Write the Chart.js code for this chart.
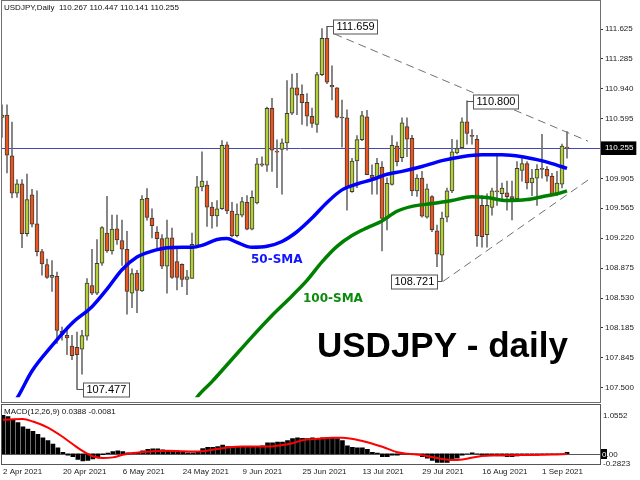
<!DOCTYPE html>
<html><head><meta charset="utf-8">
<script src="https://cdn.jsdelivr.net/npm/chart.js@4"></script>
<style>
html,body{margin:0;padding:0;background:#fff;width:640px;height:480px;overflow:hidden}
#main{position:absolute;left:0;top:0}
#macd{position:absolute;left:0;top:404px}
</style></head><body>
<canvas id="main" width="640" height="404"></canvas>
<canvas id="macd" width="640" height="76"></canvas>
<script>
// ---------- DATA ----------
const symbolTitle = 'USDJPY,Daily';
const opens = [110.608,110.635,110.167,109.738,109.846,109.271,109.719,109.383,109.065,108.916,
108.766,108.781,108.146,108.101,107.978,107.963,107.94,108.09,108.673,108.587,
108.93,109.278,109.072,109.327,109.192,109.091,108.587,108.818,108.613,109.678,
109.45,109.29,109.214,108.897,109.222,108.949,108.919,108.744,108.755,109.136,
109.809,109.831,109.577,109.476,109.558,110.295,109.532,109.248,109.484,109.633,
109.323,109.626,110.074,110.059,110.713,110.22,110.242,110.317,110.657,110.949,
110.874,110.784,110.623,110.53,111.102,111.52,110.978,110.949,110.612,110.605,
109.753,110.108,110.354,110.616,109.943,109.913,110.037,109.446,109.839,110.28,
110.145,110.504,110.37,109.764,109.91,109.46,109.697,109.304,109.024,109.46,
109.764,110.2,110.26,110.56,110.403,110.358,109.596,109.26,109.573,109.764,
109.73,109.742,109.697,109.674,110.0,110.078,109.854,109.91,110.022,110.011,
109.932,109.73,109.842,110.267];
const highs = [110.754,110.754,110.556,109.895,109.895,109.958,109.782,109.764,109.091,108.979,
108.96,108.83,108.194,108.157,108.101,108.138,108.157,108.755,109.091,109.203,
109.353,109.7,109.484,109.484,109.427,109.297,108.867,108.848,109.708,109.79,
109.558,109.353,109.259,109.427,109.334,109.091,108.923,108.848,109.278,109.932,
110.212,109.876,109.633,109.652,110.343,110.325,109.633,109.614,109.689,109.708,
109.764,110.138,110.156,110.728,110.829,110.351,110.362,111.034,111.109,111.117,
110.986,110.885,110.717,111.128,111.632,111.659,111.203,110.952,110.81,110.698,
110.138,110.399,110.679,110.691,110.063,110.138,110.1,109.913,110.399,110.325,
110.605,110.605,110.403,109.95,109.988,109.842,109.708,109.371,109.52,109.797,
110.358,110.347,110.605,110.8,110.47,110.403,109.708,109.73,109.797,110.19,
109.854,109.876,109.876,110.1,110.134,110.1,110.011,110.067,110.414,110.044,
109.966,109.988,110.302,110.447];
const lows = [110.38,109.969,109.682,109.689,109.11,109.241,109.35,109.016,108.792,108.755,
108.605,108.007,108.045,107.877,107.82,107.477,107.652,108.045,108.568,108.568,
108.904,109.054,109.035,109.147,108.904,108.344,108.419,108.362,108.605,109.427,
109.222,109.11,108.867,108.587,108.755,108.624,108.661,108.568,108.755,109.128,
109.764,109.353,109.334,109.353,109.55,109.502,109.233,109.233,109.465,109.315,
109.315,109.614,110.044,109.988,109.988,109.801,109.727,110.231,110.642,110.642,
110.53,110.511,110.493,110.437,111.091,110.997,110.81,110.605,110.268,109.54,
109.745,109.801,110.343,109.951,109.727,109.727,109.073,109.315,109.83,110.05,
110.1,110.156,109.708,109.7,109.46,109.45,109.293,108.89,108.721,109.405,
109.742,110.19,110.246,110.302,110.3,109.125,109.114,109.114,109.484,109.596,
109.652,109.54,109.428,109.652,109.876,109.786,109.708,109.596,109.91,109.876,
109.708,109.708,109.797,110.141];
const closes = [110.635,110.175,109.738,109.846,109.271,109.663,109.379,109.065,108.923,108.766,
108.792,108.157,108.108,108.071,107.865,107.877,108.097,108.703,108.587,108.93,
109.341,109.072,109.323,109.2,109.091,108.605,108.811,108.617,109.67,109.457,
109.364,109.214,108.897,109.222,108.766,108.766,108.744,108.774,109.147,109.809,
109.876,109.577,109.476,109.558,110.287,109.532,109.248,109.495,109.641,109.323,
109.689,110.074,110.059,110.713,110.231,110.21,110.317,110.657,110.949,110.866,
110.78,110.623,110.541,111.102,111.52,111.016,110.96,110.612,110.605,109.801,
110.108,110.354,110.631,109.951,109.913,110.082,109.446,109.85,110.287,110.1,
110.548,110.358,109.764,109.91,109.473,109.786,109.316,109.035,109.45,109.764,
110.212,110.25,110.56,110.425,110.39,109.248,109.237,109.596,109.764,109.753,
109.797,109.697,109.674,110.022,110.078,109.854,109.91,110.011,110.011,109.932,
109.73,109.854,110.28,110.255];

const sma50Bars = [2,3,6,10,14,18,21,24,27,30,33,36,38,40,43,45,47,50,53,56,59,62,65,68,71,74,77,80,84,88,92,96,100,104,107,110,113];
const sma50Vals = [107.298,107.376,107.690,107.982,108.240,108.430,108.632,108.856,109.002,109.069,109.108,109.114,109.114,109.136,109.204,109.215,109.170,109.114,109.125,109.181,109.293,109.450,109.630,109.775,109.843,109.893,109.955,109.988,110.044,110.112,110.157,110.179,110.179,110.157,110.123,110.078,110.022];
const sma100Bars = [38,39,42,46,50,54,58,61,64,67,70,73,76,79,82,86,90,94,97,101,105,108,111,113];
const sma100Vals = [107.298,107.388,107.567,107.825,108.083,108.329,108.554,108.733,108.946,109.125,109.249,109.338,109.417,109.529,109.585,109.618,109.652,109.697,109.686,109.652,109.663,109.697,109.731,109.764];

const trendUpperBars = [66.5,117.2];
const trendUpperVals = [111.57,110.336];
const trendLowerBars = [88.2,117.2];
const trendLowerVals = [108.721,109.888];

const macdHist = [1.0552,1.02,0.92,0.854,0.742,0.68,0.615,0.536,0.44,0.359,
0.263,0.16,0.04,-0.038,-0.079,-0.158,-0.199,-0.182,-0.144,-0.079,
-0.024,0.017,0.057,0.081,0.057,0.024,0.017,0.041,0.081,0.12,
0.136,0.136,0.105,0.096,0.096,0.081,0.057,0.024,0.024,0.057,
0.144,0.177,0.177,0.2,0.24,0.2,0.2,0.2,0.2,0.2,
0.2,0.2,0.215,0.297,0.297,0.32,0.32,0.359,0.416,0.44,
0.423,0.416,0.44,0.416,0.44,0.44,0.44,0.416,0.359,0.215,
0.177,0.16,0.16,0.12,0.04,0.017,-0.079,-0.079,-0.038,-0.038,
-0.005,-0.005,-0.01,-0.024,-0.079,-0.12,-0.182,-0.239,-0.239,-0.239,
-0.158,-0.12,-0.038,-0.005,0.024,-0.005,-0.038,-0.062,-0.062,-0.062,
-0.062,-0.079,-0.079,-0.062,-0.055,-0.055,-0.038,-0.038,-0.024,-0.024,
-0.014,-0.014,-0.005,0.0388];
const signalBars = [0,4,6,9,12,14,16,18,20,22,24,26,30,33,36,39,42,45,48,53,56,58,60,63,66,68,72,76,79,81,84,87,90,92,95,98,104,110,113];
const signalVals = [0.935,0.955,0.885,0.718,0.46,0.26,0.07,-0.07,-0.12,-0.10,-0.03,0.02,0.065,0.081,0.065,0.06,0.11,0.17,0.2,0.2,0.24,0.29,0.37,0.41,0.44,0.44,0.35,0.19,0.04,0.0,-0.04,-0.12,-0.175,-0.16,-0.08,-0.04,-0.038,-0.024,-0.0081];

const priceTicks = [111.625,111.285,110.940,110.595,110.255,109.905,109.565,109.220,108.875,108.530,108.185,107.845,107.500];
const macdTicks = [1.0552,-0.2823];
const dateBars = [0,12,24,36,48,60,72,84,96,108];
const dateLabels = ['2 Apr 2021','20 Apr 2021','6 May 2021','24 May 2021','9 Jun 2021','25 Jun 2021','13 Jul 2021','29 Jul 2021','16 Aug 2021','1 Sep 2021'];

// ---------- SETUP ----------
const N = opens.length;
const LAST = closes[N-1];
const X_MIN = -0.2, X_MAX = 119.6;
const BULL = '#b4ce36', BEAR = '#ec561d';
const FONT = "'Liberation Sans', Arial, sans-serif";
Chart.defaults.font.family = FONT;

const wickData = opens.map((o,i)=>({x:i, y:[lows[i], highs[i]]}));
const bodyData = opens.map((o,i)=>{
  let a = Math.min(o, closes[i]), b = Math.max(o, closes[i]);
  if (b - a < 0.012) { const m = (a+b)/2; a = m-0.006; b = m+0.006; }
  return {x:i, y:[a,b]};
});
const bodyColors = opens.map((o,i)=> closes[i] >= o ? BULL : BEAR);
const toPts = (xs, ys) => xs.map((x,k)=>({x, y:ys[k]}));

const markers = [
  {bar:65, field:'high', side:1},
  {bar:93, field:'high', side:1},
  {bar:88, field:'low', side:-1},
  {bar:15, field:'low', side:1}
];

const mainPlugin = {
  id:'mainDeco',
  beforeDatasetsDraw(chart){
    const {ctx, chartArea:a, scales:{y}} = chart;
    const py = Math.round(y.getPixelForValue(LAST)) + 0.5;
    ctx.save();
    ctx.strokeStyle = '#4646b4'; ctx.lineWidth = 1;
    ctx.beginPath(); ctx.moveTo(a.left, py); ctx.lineTo(a.right, py); ctx.stroke();
    ctx.restore();
  },
  afterDraw(chart){
    const {ctx, scales:{x,y}} = chart;
    ctx.save();
    ctx.strokeStyle = '#707070'; ctx.lineWidth = 1;
    ctx.strokeRect(1.5, 0.5, 599, 402);
    // header
    ctx.font = "8px " + FONT; ctx.fillStyle = '#111';
    ctx.textBaseline = 'middle'; ctx.textAlign = 'left';
    const last = [opens[N-1], highs[N-1], lows[N-1], closes[N-1]].map(v=>v.toFixed(3)).join(' ');
    ctx.fillText(symbolTitle + '  ' + last, 4, 8);
    // price markers
    ctx.font = "11px " + FONT;
    markers.forEach(m=>{
      const v = m.field === 'high' ? highs[m.bar] : lows[m.bar];
      const px = x.getPixelForValue(m.bar);
      const py = Math.round(y.getPixelForValue(v)) + 0.5;
      const txt = v.toFixed(3);
      const w = Math.round(ctx.measureText(txt).width) + 6, h = 14;
      const bx = m.side > 0 ? Math.round(px + 6) + 0.5 : Math.round(px - 5 - w) + 0.5;
      const by = Math.round(py - 7) - 0.5 + 0.5;
      ctx.strokeStyle = '#555';
      ctx.beginPath(); ctx.moveTo(px, py); ctx.lineTo(m.side > 0 ? bx : bx + w, py); ctx.stroke();
      ctx.fillStyle = '#fff'; ctx.fillRect(bx, by, w, h);
      ctx.strokeStyle = '#555'; ctx.strokeRect(bx, by, w, h);
      ctx.fillStyle = '#000'; ctx.textBaseline = 'middle';
      ctx.fillText(txt, bx + 3, py + 0.5);
    });
    // MA labels
    ctx.font = "bold 12px 'DejaVu Sans', sans-serif";
    ctx.textBaseline = 'alphabetic';
    ctx.fillStyle = '#1414ff'; ctx.fillText('50-SMA', 251, 262.5);
    ctx.fillStyle = '#0c8a0c'; ctx.fillText('100-SMA', 303, 302);
    // big title
    ctx.font = "bold 35px " + FONT;
    ctx.fillStyle = '#000';
    ctx.fillText('USDJPY - daily', 317, 357);
    ctx.restore();
  }
};

new Chart(document.getElementById('main'), {
  type:'bar',
  data:{ datasets:[
    {type:'line', data:toPts(sma50Bars, sma50Vals), borderColor:'#0000ff', borderWidth:3.5, pointRadius:0, cubicInterpolationMode:'monotone', order:1, clip:0},
    {type:'line', data:toPts(sma100Bars, sma100Vals), borderColor:'#008000', borderWidth:3.5, pointRadius:0, cubicInterpolationMode:'monotone', order:2, clip:0},
    {type:'line', data:toPts(trendUpperBars, trendUpperVals), borderColor:'#707070', borderWidth:1, borderDash:[8,5], pointRadius:0, order:3},
    {type:'line', data:toPts(trendLowerBars, trendLowerVals), borderColor:'#707070', borderWidth:1, borderDash:[8,5], pointRadius:0, order:3},
    {type:'bar', data:bodyData, backgroundColor:bodyColors, borderColor:'#3c3c3c', borderWidth:1, borderSkipped:false, barThickness:4, grouped:false, order:4},
    {type:'bar', data:wickData, backgroundColor:'#6e6e6e', barThickness:1, grouped:false, order:5}
  ]},
  options:{
    responsive:false, animation:false, events:[],
    layout:{padding:{left:1, top:1, right:0, bottom:2}},
    plugins:{legend:{display:false}, tooltip:{enabled:false}},
    scales:{
      x:{type:'linear', min:X_MIN, max:X_MAX, offset:false, display:false},
      y:{type:'linear', position:'right', min:107.388, max:111.883, beginAtZero:false,
         afterBuildTicks:s=>{ s.ticks = priceTicks.map(v=>({value:v})); },
         afterFit:s=>{ s.width = 40; },
         grid:{display:true, drawOnChartArea:false, drawTicks:true, tickLength:3, color:'#333', tickColor:'#333'},
         border:{display:true, color:'#333'},
         ticks:{font:{size:8}, padding:2, autoSkip:false,
           color:c=> (c.tick && Math.abs(c.tick.value-LAST)<1e-6) ? '#fff' : '#222',
           showLabelBackdrop:true,
           backdropColor:c=> (c.tick && Math.abs(c.tick.value-LAST)<1e-6) ? '#000' : 'rgba(0,0,0,0)',
           backdropPadding:{left:4, right:3, top:2, bottom:2},
           callback:v=>Number(v).toFixed(3)}
      }
    }
  },
  plugins:[mainPlugin]
});

const macdPlugin = {
  id:'macdDeco',
  beforeDatasetsDraw(chart){
    const {ctx, chartArea:a, scales:{y}} = chart;
    const py = Math.round(y.getPixelForValue(0)) + 0.5;
    ctx.save(); ctx.strokeStyle = '#555'; ctx.lineWidth = 1;
    ctx.beginPath(); ctx.moveTo(a.left, py); ctx.lineTo(a.right, py); ctx.stroke();
    ctx.restore();
  },
  afterDraw(chart){
    const {ctx, scales:{y}} = chart;
    ctx.save();
    ctx.strokeStyle = '#555'; ctx.lineWidth = 1;
    ctx.strokeRect(1.5, 0.5, 599, 60);
    ctx.font = "8px " + FONT; ctx.textBaseline = 'middle'; ctx.textAlign = 'left';
    ctx.fillStyle = '#111';
    ctx.fillText('MACD(12,26,9) ' + macdHist[N-1].toFixed(4) + ' ' + signalVals[signalVals.length-1].toFixed(4), 4, 8);
    const zy = Math.round(y.getPixelForValue(0));
    ctx.fillStyle = '#000'; ctx.fillRect(601, zy-5, 6, 10);
    ctx.fillStyle = '#fff'; ctx.fillText('0', 602, zy+0.5);
    ctx.fillStyle = '#222'; ctx.fillText('.00', 606.5, zy+0.5);
    ctx.restore();
  }
};

new Chart(document.getElementById('macd'), {
  type:'bar',
  data:{ datasets:[
    {type:'line', data:toPts(signalBars, signalVals), borderColor:'#ff0000', borderWidth:2, pointRadius:0, cubicInterpolationMode:'monotone', order:1, clip:0},
    {type:'bar', data:macdHist.map((v,i)=>({x:i, y:v})), backgroundColor:'#000', barThickness:4, order:2}
  ]},
  options:{
    responsive:false, animation:false, events:[],
    layout:{padding:{left:1, top:0, right:0, bottom:0}},
    plugins:{legend:{display:false}, tooltip:{enabled:false}},
    scales:{
      x:{type:'linear', position:'bottom', min:X_MIN, max:X_MAX, offset:false,
         afterBuildTicks:s=>{ s.ticks = dateBars.map(v=>({value:v})); },
         afterFit:s=>{ s.height = 16; },
         grid:{display:false, drawTicks:false},
         border:{display:true, color:'#444'},
         ticks:{font:{size:8}, color:'#222', align:'start', padding:3, maxRotation:0, autoSkip:false,
           callback:v=>{ const k = dateBars.indexOf(v); return k >= 0 ? dateLabels[k] : ''; }}
      },
      y:{type:'linear', position:'right', min:-0.2823, max:1.153, beginAtZero:false,
         afterBuildTicks:s=>{ s.ticks = macdTicks.map(v=>({value:v})); },
         afterFit:s=>{ s.width = 40; },
         grid:{display:false, drawTicks:false},
         border:{display:true, color:'#333'},
         ticks:{font:{size:8}, color:'#222', padding:3, autoSkip:false, callback:v=>Number(v).toFixed(4)}
      }
    }
  },
  plugins:[macdPlugin]
});
</script></body></html>
